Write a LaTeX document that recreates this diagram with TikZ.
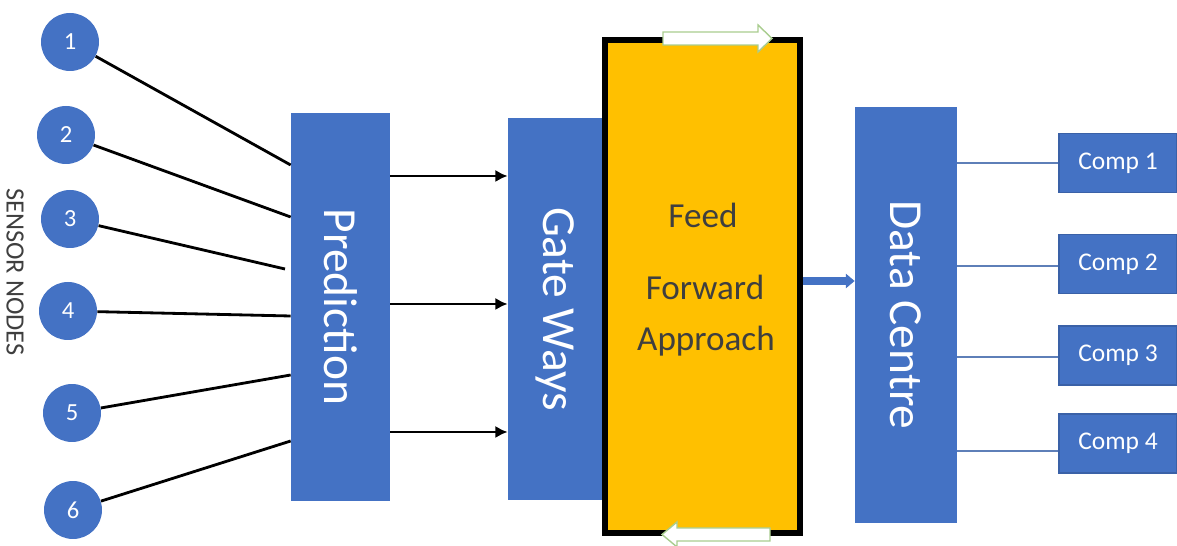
\documentclass[tikz,border=0pt]{standalone}
\usepackage{fontspec}
\setmainfont{Carlito}
\usepackage{tikz}
\usetikzlibrary{
  calc,
  positioning,
  arrows.meta
}
\tikzset{>={Latex[length=7pt,width=7pt]}}
\definecolor{boxblue}{HTML}{4472C4}
\definecolor{ffyellow}{HTML}{FFC000}
\definecolor{flowgreen}{HTML}{A9CD8F}
\definecolor{linkblue}{HTML}{5E7FB8}
\definecolor{labelgray}{HTML}{3F3F3F}
\tikzset{
  sensor/.style={circle,fill=boxblue,minimum size=1.16cm,inner sep=0pt,text=white,font=\fontsize{14}{16}\selectfont},
  bar/.style={rectangle,fill=boxblue,inner sep=0pt,text=white,font=\fontsize{27}{30}\selectfont},
  comp/.style={rectangle,fill=boxblue,draw=boxblue!85!black,line width=0.6pt,inner sep=0pt,minimum width=2.36cm,minimum height=1.18cm,text=white,font=\fontsize{14.5}{16}\selectfont},
  wire/.style={line width=1.6pt},
  link/.style={linkblue,line width=0.8pt},
  ffatext/.style={text=labelgray,font=\fontsize{20}{24}\selectfont},
  flow/.style={draw=flowgreen,fill=white,line width=0.8pt}
}

\begin{document}
\begin{tikzpicture}[x=0.02cm,y=-0.02cm]
			\useasboundingbox (0,0) rectangle (1177,546);

			% sensor nodes
			\foreach \n/\x/\y in {1/70/42,2/66/135,3/70/219,4/68/311,5/72/413,6/73/510}
				\node[sensor] (s\n) at (\x,\y) {\n};
			\node[rotate=-90,text=labelgray,font=\fontsize{15}{16}\selectfont] (sensorlbl) at (15,272) {SENSOR NODES};

			\node[bar,minimum width=1.98cm,minimum height=7.76cm] (pred) at (340.5,307) {\rotatebox{-90}{Prediction}};
			\node[bar,minimum width=1.9cm,minimum height=7.64cm] (gate) at (555.5,309) {\rotatebox{-90}{Gate Ways}};
			\node[draw=black,line width=3.4pt,fill=ffyellow,inner sep=0pt,minimum width=3.9cm,minimum height=9.86cm] (ffa) at (702.5,286.5) {};
			\node[bar,minimum width=2.04cm,minimum height=8.32cm] (dc) at (906,315) {\rotatebox{-90}{Data Centre}};

			\node[ffatext] (feed) at (703,215) {Feed};
			\node[ffatext] (forward) at (705,287) {Forward};
			\node[ffatext] (approach) at (706,341) {Approach};

			% flow arrows on the box
			\draw[flow] (663,32) -- (758,32) -- (758,25) -- (772,38.5) -- (758,52) -- (758,45) -- (663,45) -- cycle;
			\draw[flow] (770,528) -- (677,528) -- (677,522) -- (662,534.5) -- (677,547) -- (677,541) -- (770,541) -- cycle;

			\coordinate (s3end) at (285,269);
			\foreach \n/\y in {1/165,2/217,4/316,5/375,6/441}
				\draw[wire] (s\n) -- (pred.west |- 0,\y);
			\draw[wire] (s3) -- (s3end);

			\foreach \y in {176,304,432}
				\draw[->,wire] (pred.east |- 0,\y) -- (gate.west |- 0,\y);

			\draw[boxblue,line width=4.5pt,-{Triangle[length=5pt,width=8pt]}] (ffa.east |- 0,281) -- (dc.west |- 0,281);

			\foreach \n/\y in {1/163,2/264,3/355.5,4/443.5}
				\node[comp] (comp\n) at (1118,\y) {Comp \n};
			\foreach \n/\y in {1/163,2/266,3/357,4/451}
				\draw[link] (dc.east |- 0,\y) -- (comp\n.west |- 0,\y);
		\end{tikzpicture}
\end{document}
